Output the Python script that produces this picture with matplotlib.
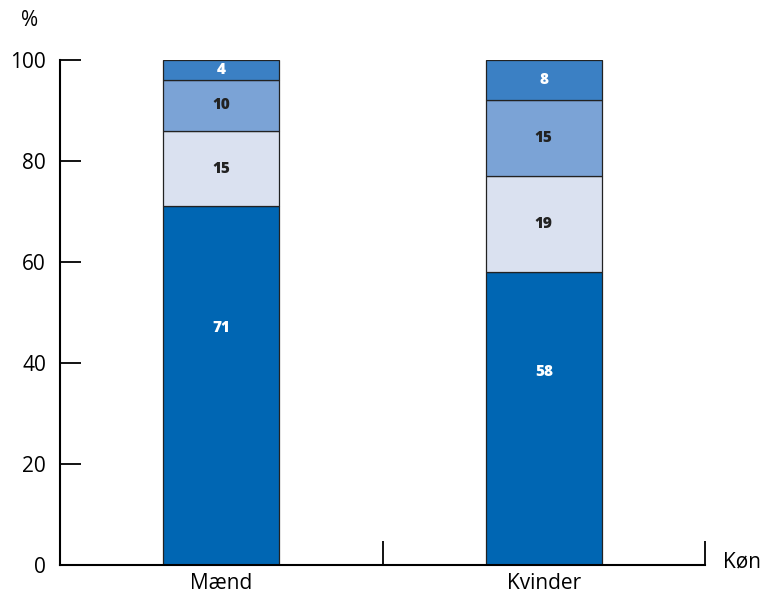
import matplotlib

matplotlib.use("Agg")
import matplotlib.pyplot as plt

plt.rcParams["font.family"] = ["Open Sans", "DejaVu Sans"]

categories = ["Mænd", "Kvinder"]
# stacked segments from bottom to top
segment_values = [
    [71, 58],
    [15, 19],
    [10, 15],
    [4, 8],
]
segment_colors = ["#0066b3", "#dae1f0", "#7ba3d6", "#3b80c4"]
label_colors = ["white", "#222222", "#222222", "white"]
# where the value label sits inside each segment (fraction of its height)
label_frac = [0.66, 0.5, 0.5, 0.5]
y_ticks = [0, 20, 40, 60, 80, 100]

fig = plt.figure(figsize=(7.63, 5.95), dpi=100)
ax = fig.add_axes([60 / 763, 1 - 565 / 595, 645 / 763, 505 / 595])

positions = [0.5, 1.5]
bottoms = [0, 0]
for values, color, tcolor, frac in zip(segment_values, segment_colors, label_colors, label_frac):
    bars = ax.bar(positions, values, width=0.36, bottom=bottoms, color=color,
                  edgecolor="#222222", linewidth=0.9, zorder=2)
    for bar, v, b in zip(bars, values, bottoms):
        ax.text(bar.get_x() + bar.get_width() / 2, b + v * frac, str(v),
                ha="center", va="center", fontsize=11, fontweight="heavy",
                color=tcolor, zorder=3)
    bottoms = [b + v for b, v in zip(bottoms, values)]

ax.set_xlim(0, 2)
ax.set_ylim(0, 100)
ax.set_yticks(y_ticks)
ax.set_yticklabels([str(t) for t in y_ticks], fontsize=15)
ax.tick_params(axis="y", direction="in", length=15, width=1.3, pad=10)
for lbl in ax.get_yticklabels():
    lbl.set_verticalalignment("center_baseline")

ax.set_xticks([1, 2])
ax.set_xticklabels(["", ""])
ax.tick_params(axis="x", direction="in", length=17, width=1.3)
for pos, name in zip(positions, categories):
    ax.text(pos, -3.6, name, ha="center", va="center", fontsize=15)

for side in ["top", "right"]:
    ax.spines[side].set_visible(False)
for side in ["left", "bottom"]:
    ax.spines[side].set_linewidth(1.5)

fig.text(30 / 763, 1 - 20 / 595, "%", ha="center", va="center", fontsize=15)
fig.text(742 / 763, 1 - 562 / 595, "Køn", ha="center", va="center", fontsize=15)

fig.savefig("out.png", dpi=100)
